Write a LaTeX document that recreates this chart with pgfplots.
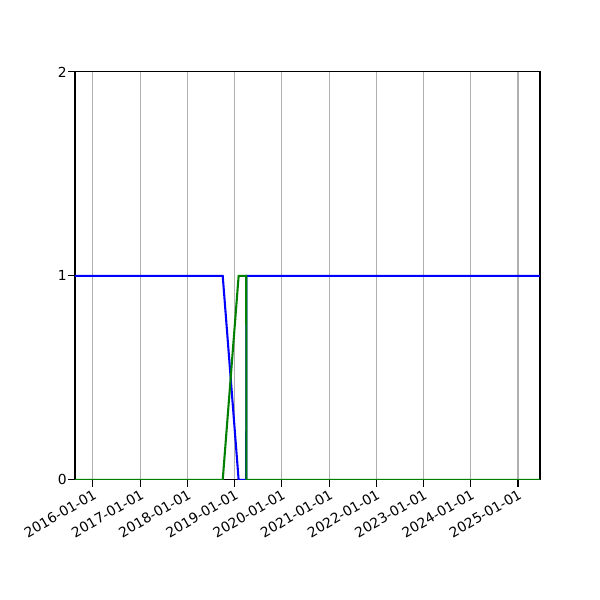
\documentclass[border=0pt]{standalone}
\usepackage{fontspec}
\setmainfont{DejaVu Sans}
\usepackage{pgfplots}
\pgfplotsset{compat=1.18}
\usepgfplotslibrary{dateplot}
\definecolor{mplgreen}{RGB}{0,128,0}
\definecolor{gridgray}{RGB}{176,176,176}
\begin{document}
\fontsize{10}{12}\selectfont
\begin{tikzpicture}
\begin{axis}[
    name=ax,
    scale only axis,
    width=336.2pt, height=295pt,
    date coordinates in=x,
    xmin=2015-08-15, xmax=2025-06-20,
    ymin=0, ymax=2,
    ytick={0,1,2},
    xtick={2016-01-01,2017-01-01,2018-01-01,2019-01-01,2020-01-01,2021-01-01,2022-01-01,2023-01-01,2024-01-01,2025-01-01},
    xticklabel=\year-\month-\day,
    xticklabel style={rotate=30, anchor=north east, inner sep=1pt},
    yticklabel style={inner sep=1pt},
    /pgf/number format/assume math mode=true,
    tick align=outside,
    tick pos=left,
    major tick length=4.86pt,
    every tick/.style={black, line width=0.8pt},
    axis line style={line width=0.8pt},
    xmajorgrids,
    grid style={gridgray, line width=0.8pt},
    axis on top=false,
]
\addplot[blue, line width=1.5pt] coordinates {
    (2015-08-15,1) (2018-10-01,1) (2019-02-01,0) (2019-04-01,0) (2019-04-02,1) (2025-06-20,1)
};
\addplot[mplgreen, line width=1.5pt] coordinates {
    (2015-08-15,0) (2018-10-01,0) (2019-02-01,1) (2019-04-01,1) (2019-04-02,0) (2025-06-20,0)
};
\end{axis}
\path (ax.south west) ++(-54.2pt,-86.7pt) rectangle ([shift={(43.4pt,52pt)}]ax.north east);
\end{tikzpicture}
\end{document}
